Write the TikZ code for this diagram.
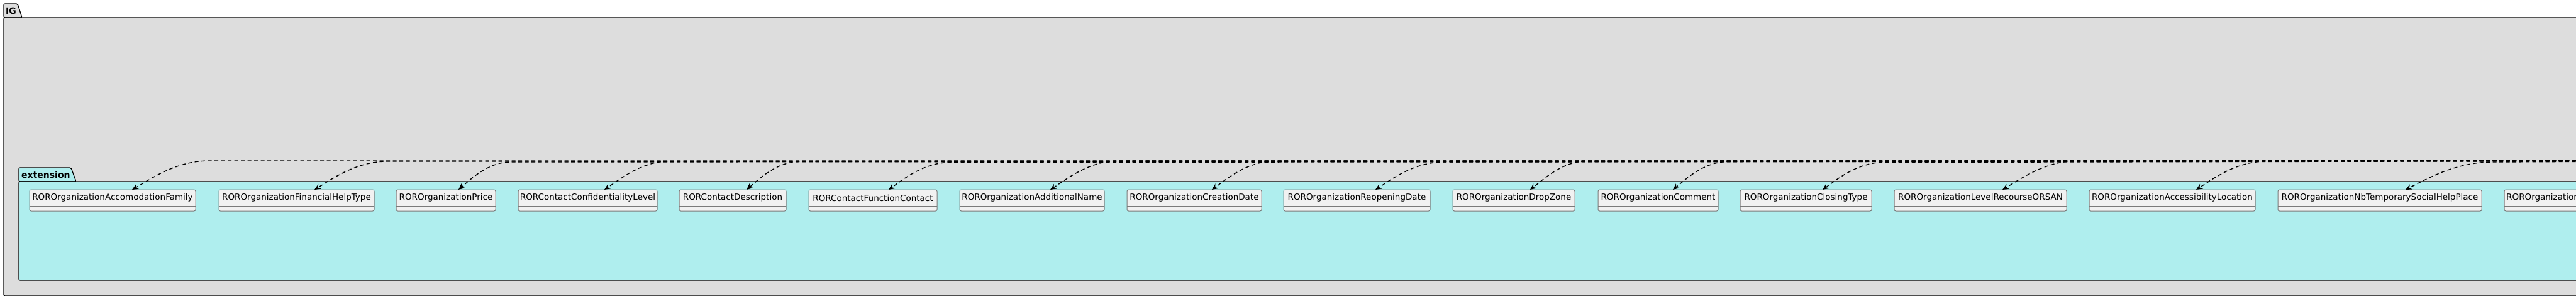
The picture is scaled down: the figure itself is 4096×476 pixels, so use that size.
\documentclass[tikz,border=0pt]{standalone}
\usepackage{fontspec}
\setmainfont{DejaVu Sans}
\usetikzlibrary{arrows.meta,calc}
\definecolor{igfill}{HTML}{DDDDDD}
\definecolor{extfill}{HTML}{AFEEEE}
\definecolor{clsfill}{HTML}{F1F1F1}
\definecolor{clsborder}{HTML}{7A7A7A}
\tikzset{
  pkg/.style={draw=black, line width=1.3pt, rounded corners=2pt},
  clsbox/.style={draw=clsborder, fill=clsfill, line width=1pt, rounded corners=2.5pt,
    minimum height=34pt, inner sep=0pt, outer sep=0pt},
  clstext/.style={font=\fontsize{13.5}{16}\selectfont, inner sep=0pt},
  clsline/.style={draw=clsborder, line width=1pt},
  dep/.style={draw=black, line width=1.4pt, dash pattern=on 6pt off 4.5pt,
    -{Stealth[length=10pt,width=9pt,inset=3.5pt]}},
  pkgtitle/.style={font=\bfseries\fontsize{14}{16}\selectfont, inner sep=0pt}
}
% #1 name, #2 left, #3 right, #4 text
\newcommand{\clsdef}[4]{%
  \node[clsbox, minimum width={(#3-#2)*1pt}] (#1) at ({(#2+#3)/2},319) {};
  \node[clstext] (#1t) at ({(#2+#3)/2},315) {#4};
  \draw[clsline] (#1.west |- 0,328) -- (#1.east |- 0,328);
}
% #1 target node, #2 tip x, #3 start x of the bend, #4 y offset
\newcommand{\depedge}[4]{%
  \draw[dep] (src) -- (#3,{256+#4})
    .. controls ({#3-0.43*(#3-#2)},{256+#4}) and ({#2+0.24*(#3-#2)},285) ..
    (#1.north -| #2,0);
}
\begin{document}
\begin{tikzpicture}[x=1pt,y=-1pt]
\useasboundingbox (0,0) rectangle (4096,476);
\clip (0,0) rectangle (4096,476);
% IG package
\filldraw[pkg, fill=igfill] (6,28) -- (6,6) -- (28,6) -- (35,28) -- cycle;
\filldraw[pkg, fill=igfill] (6,28) rectangle (4200,471);
\node[pkgtitle, anchor=west] (igt) at (9,17) {IG};
% extension package
\filldraw[pkg, fill=extfill] (30,289) -- (30,267) -- (113,267) -- (121,289) -- cycle;
\filldraw[pkg, fill=extfill] (30,289) rectangle (4200,446);
\node[pkgtitle, anchor=west] (extt) at (34,278) {extension};
% classes
\clsdef{c1}{47}{311}{ROROrganizationAccomodationFamily}
\clsdef{c2}{348}{595}{ROROrganizationFinancialHelpType}
\clsdef{c3}{630}{788}{ROROrganizationPrice}
\clsdef{c4}{824}{1045}{RORContactConfidentialityLevel}
\clsdef{c5}{1080}{1250}{RORContactDescription}
\clsdef{c6}{1286}{1490}{RORContactFunctionContact}
\clsdef{c7}{1526}{1756}{ROROrganizationAdditionalName}
\clsdef{c8}{1792}{2006}{ROROrganizationCreationDate}
\clsdef{c9}{2041}{2274}{ROROrganizationReopeningDate}
\clsdef{c10}{2310}{2504}{ROROrganizationDropZone}
\clsdef{c11}{2541}{2732}{ROROrganizationComment}
\clsdef{c12}{2767}{2976}{ROROrganizationClosingType}
\clsdef{c13}{3012}{3286}{ROROrganizationLevelRecourseORSAN}
\clsdef{c14}{3322}{3586}{ROROrganizationAccessibilityLocation}
\clsdef{c15}{3622}{3946}{ROROrganizationNbTemporarySocialHelpPlace}
\node[clsbox, minimum width=400pt] (c16) at (4182,319) {};
\node[clstext, anchor=west] (c16t) at (3985,315) {ROROrganization};
\draw[clsline] (c16.west |- 0,328) -- (c16.east |- 0,328);
% source of the dependencies (off to the right)
\coordinate (src) at (4400,256);
\depedge{c1}{210}{333}{0}
\depedge{c2}{500}{616}{1}
\depedge{c3}{729}{812}{2}
\depedge{c4}{961}{1066}{0.5}
\depedge{c5}{1187}{1271}{1.5}
\depedge{c6}{1413}{1512}{2.5}
\depedge{c7}{1670}{1779}{0}
\depedge{c8}{1927}{2025}{1}
\depedge{c9}{2187}{2296}{2}
\depedge{c10}{2433}{2524}{0.5}
\depedge{c11}{2660}{2747}{1.5}
\depedge{c12}{2898}{2996}{2.5}
\depedge{c13}{3184}{3304}{0}
\depedge{c14}{3492}{3603}{1}
\depedge{c15}{3825}{3964}{2}
\end{tikzpicture}
\end{document}
